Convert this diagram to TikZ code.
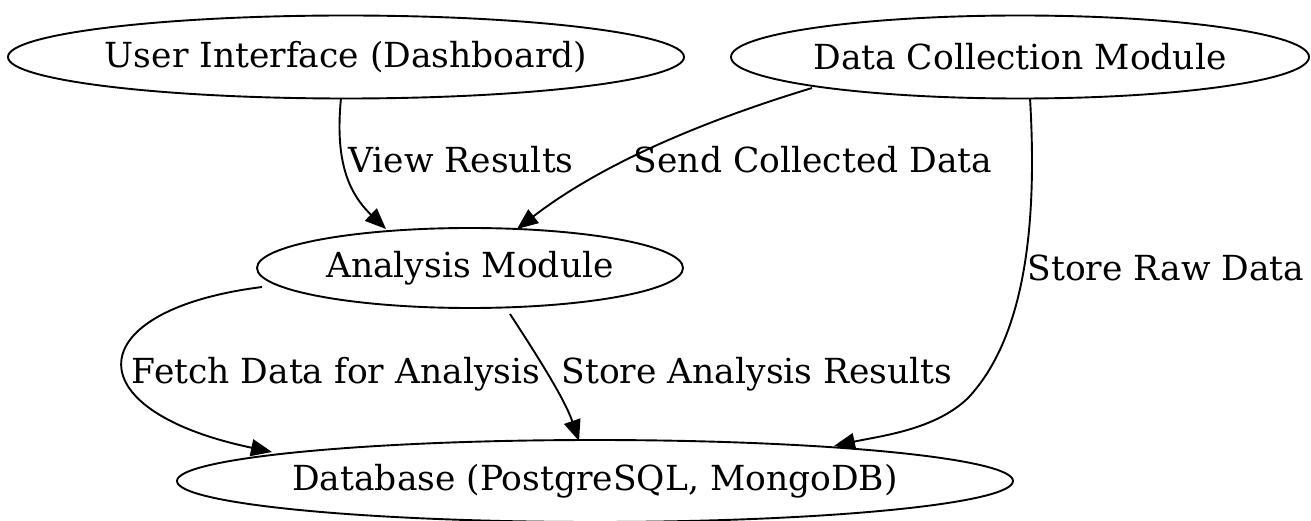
\documentclass[tikz,border=0pt]{standalone}
\usepackage{fontspec}
\setmainfont{DejaVu Serif}
\usetikzlibrary{shapes.geometric,arrows.meta}
\tikzset{
  block/.style={draw, ellipse, line width=1.9pt, inner xsep=-80pt, inner ysep=-20pt, font=\fontsize{34.5}{40}\selectfont},
  flow/.style={line width=1.9pt, -{Triangle[length=21pt,width=17pt]}},
  lbl/.style={font=\fontsize{34.5}{40}\selectfont, inner sep=0pt},
}
\begin{document}
\begin{tikzpicture}[x=1pt,y=-1pt]
\useasboundingbox (0,0) rectangle (1311,521);
\node[block, minimum width=676pt, minimum height=83pt] (ui) at (346,57) {User Interface (Dashboard)};
\node[block, minimum width=578pt, minimum height=83pt] (dc) at (1020,57) {Data Collection Module};
\node[block, minimum width=426pt, minimum height=80pt] (am) at (470,268) {Analysis Module};
\node[block, minimum width=836pt, minimum height=82pt] (db) at (595,481) {Database (PostgreSQL, MongoDB)};

\coordinate (uiS) at (341,98);
\coordinate (amA) at (386,229);
\coordinate (dcW) at (812,88);
\coordinate (amB) at (517,229);
\coordinate (dcS) at (1030,98);
\coordinate (dbC) at (834,446);
\coordinate (amW) at (262,287);
\coordinate (dbA) at (272,452);
\coordinate (amS) at (510,314);
\coordinate (dbB) at (579,441);

\draw[flow] (uiS) .. controls (336,150) and (343,188) .. (amA);
\draw[flow] (dcW) .. controls (700,122) and (600,165) .. (amB);
\draw[flow] (dcS) .. controls (1036,200) and (1032,330) .. (968,398) .. controls (935,430) and (880,436) .. (dbC);
\draw[flow] (amW) .. controls (80,310) and (72,410) .. (dbA);
\draw[flow] (amS) .. controls (540,360) and (565,400) .. (dbB);

\node[lbl] (l1) at (461,160) {View Results};
\node[lbl] (l2) at (813,160) {Send Collected Data};
\node[lbl] (l3) at (1166,268) {Store Raw Data};
\node[lbl] (l4) at (336,374) {Fetch Data for Analysis};
\node[lbl] (l5) at (757,374) {Store Analysis Results};
\end{tikzpicture}
\end{document}
